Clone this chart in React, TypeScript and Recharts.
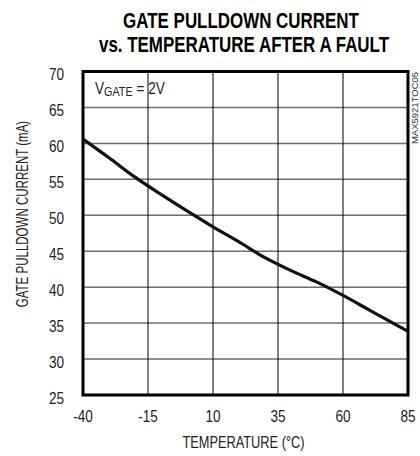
import React from "react";
import {
  LineChart,
  Line,
  XAxis,
  YAxis,
  CartesianGrid,
  ReferenceArea,
} from "recharts";

const temperatures = [-40, -30, -20, -10, 0, 10, 20, 30, 40, 50, 60, 70, 85];
const currents = [60.6, 58.0, 55.3, 52.9, 50.6, 48.4, 46.3, 44.1, 42.3, 40.7, 38.85, 36.85, 33.85];
const xTicks = [-40, -15, 10, 35, 60, 85];
const yTicks = [25, 30, 35, 40, 45, 50, 55, 60, 65, 70];

const data = temperatures.map((t, i) => ({ t, i: currents[i] }));

const FONT = "'Liberation Sans', Arial, sans-serif";
const SX = 0.8;

const XTick = (props: any) => {
  const { x, y, payload } = props;
  return (
    <text
      transform={`translate(${x},${y + 27}) scale(${SX},1)`}
      textAnchor="middle"
      fontFamily={FONT}
      fontSize={17}
      fill="#222"
    >
      {payload.value}
    </text>
  );
};

const YTick = (props: any) => {
  const { x, y, payload } = props;
  return (
    <text
      transform={`translate(${x - 19},${y + 8.5}) scale(${SX},1)`}
      textAnchor="end"
      fontFamily={FONT}
      fontSize={17}
      fill="#222"
    >
      {payload.value}
    </text>
  );
};

export default function App() {
  return (
    <div style={{ position: "absolute", left: 0, top: 0, width: 420, height: 456, background: "#fff" }}>
      <LineChart
        width={420}
        height={456}
        data={data}
        margin={{ top: 71.5, right: 12, bottom: 0, left: 0 }}
      >
        <CartesianGrid horizontal={true} vertical={false} stroke="#6e6e6e" strokeWidth={1.5} />
        <CartesianGrid horizontal={false} vertical={true} stroke="#000" strokeWidth={1} />
        <XAxis
          dataKey="t"
          type="number"
          domain={[-40, 85]}
          ticks={xTicks}
          tickSize={0}
          tickMargin={0}
          axisLine={false}
          tick={<XTick />}
          height={61}
        />
        <YAxis
          type="number"
          domain={[25, 70]}
          ticks={yTicks}
          tickSize={0}
          tickMargin={0}
          axisLine={false}
          tick={<YTick />}
          width={83}
        />
        <Line
          type="monotone"
          dataKey="i"
          stroke="#111"
          strokeWidth={3.2}
          dot={false}
          isAnimationActive={false}
        />
        <ReferenceArea
          x1={-40}
          x2={85}
          y1={25}
          y2={70}
          fill="none"
          fillOpacity={0}
          stroke="#000"
          strokeWidth={3}
          ifOverflow="visible"
        />
      </LineChart>
      <svg
        width={420}
        height={456}
        style={{ position: "absolute", left: 0, top: 0, pointerEvents: "none" }}
      >
        <text
          transform="translate(241,28) scale(0.77,1)"
          textAnchor="middle"
          fontFamily={FONT}
          fontWeight="bold"
          fontSize={22}
          fill="#000"
        >
          GATE PULLDOWN CURRENT
        </text>
        <text
          transform="translate(244,52) scale(0.77,1)"
          textAnchor="middle"
          fontFamily={FONT}
          fontWeight="bold"
          fontSize={22}
          fill="#000"
        >
          vs. TEMPERATURE AFTER A FAULT
        </text>
        <text
          transform="translate(95,94) scale(0.8,1)"
          fontFamily={FONT}
          fontSize={17}
          fill="#222"
        >
          V
          <tspan fontSize={13.5} dy={2}>GATE</tspan>
          <tspan fontSize={17} dy={-2}> = 2V</tspan>
        </text>
        <text
          transform="translate(28,214) rotate(-90) scale(0.72,1)"
          textAnchor="middle"
          fontFamily={FONT}
          fontSize={16}
          fill="#222"
        >
          GATE PULLDOWN CURRENT (mA)
        </text>
        <text
          transform="translate(243.5,448) scale(0.8,1)"
          textAnchor="middle"
          fontFamily={FONT}
          fontSize={16}
          fill="#222"
        >
          TEMPERATURE (°C)
        </text>
        <text
          transform="translate(418,108) rotate(-90)"
          textAnchor="middle"
          fontFamily={FONT}
          fontSize={9.5}
          fill="#333"
        >
          MAX5921TOC05
        </text>
      </svg>
    </div>
  );
}
